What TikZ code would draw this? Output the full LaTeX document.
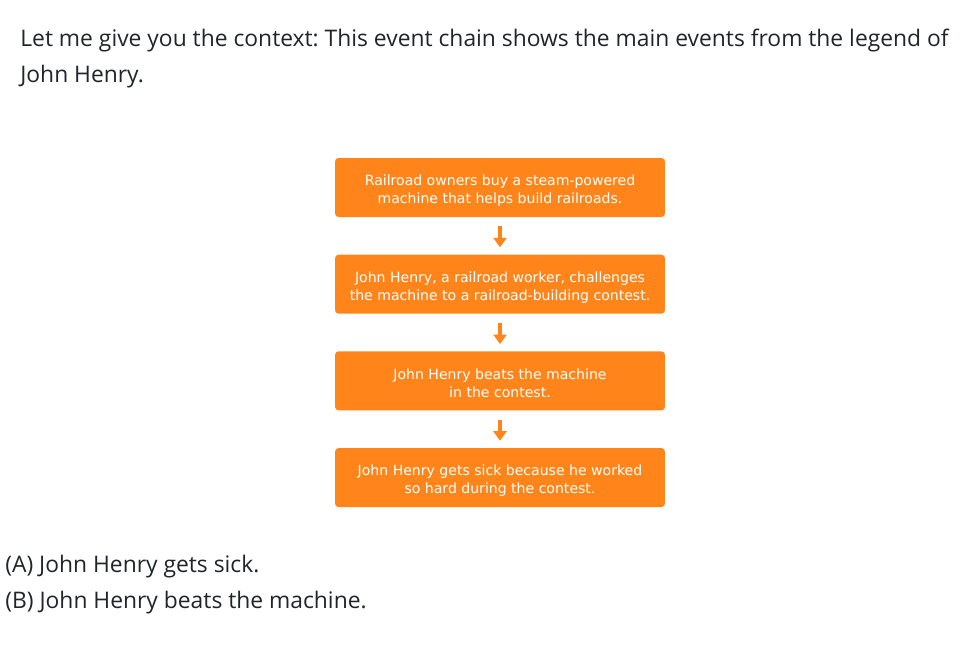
\documentclass[tikz,border=0pt]{standalone}
\usepackage{fontspec}
\setmainfont{Open Sans}
\newfontfamily\boxfont{DejaVu Sans}
\usetikzlibrary{positioning,arrows.meta}
\frenchspacing
\definecolor{evorange}{RGB}{255,133,27}
\definecolor{evtext}{RGB}{33,37,41}
\tikzset{
  evbox/.style={
    fill=evorange, rectangle, rounded corners=2pt, minimum height=1.18cm,
    minimum width=6.6cm, inner sep=0mm, text=white, align=center,
    font=\boxfont\fontsize{8}{10.2}\selectfont
  },
  evarrow/.style={
    -{Triangle[width=2.6mm,length=1.9mm]}, line width=0.65mm, draw=evorange,
    shorten <=1.8mm, shorten >=1.4mm
  },
  plain/.style={
    anchor=base west, inner sep=0mm, text=evtext,
    font=\fontsize{13}{14}\selectfont
  }
}
\newcommand{\evtext}[2]{\raisebox{-0.075cm}[\height][\depth]{\begin{tabular}{@{}c@{}}#1\\#2\end{tabular}}}

\begin{document}
\begin{tikzpicture}[x=0.02cm, y=0.02cm]
  \useasboundingbox (0,0) rectangle (970,-650);

  % question text
  \node[plain] (intro1) at (20,-46) {Let me give you the context: This event chain shows the main events from the legend of};
  \node[plain] (intro2) at (20,-82) {John Henry.};

  % event chain
  \node[evbox] (ev1) at (500,-187.5) {\evtext{Railroad owners buy a steam-powered}{machine that helps build railroads.}};
  \node[evbox, below=0.74cm of ev1] (ev2) {\evtext{John Henry, a railroad worker, challenges}{the machine to a railroad-building contest.}};
  \node[evbox, below=0.74cm of ev2] (ev3) {\evtext{John Henry beats the machine}{in the contest.}};
  \node[evbox, below=0.74cm of ev3] (ev4) {\evtext{John Henry gets sick because he worked}{so hard during the contest.}};

  \draw[evarrow] (ev1) -- (ev2);
  \draw[evarrow] (ev2) -- (ev3);
  \draw[evarrow] (ev3) -- (ev4);

  % choices
  \node[plain] (optA) at (5,-572) {(A) John Henry gets sick.};
  \node[plain] (optB) at (5,-608) {(B) John Henry beats the machine.};
\end{tikzpicture}
\end{document}
